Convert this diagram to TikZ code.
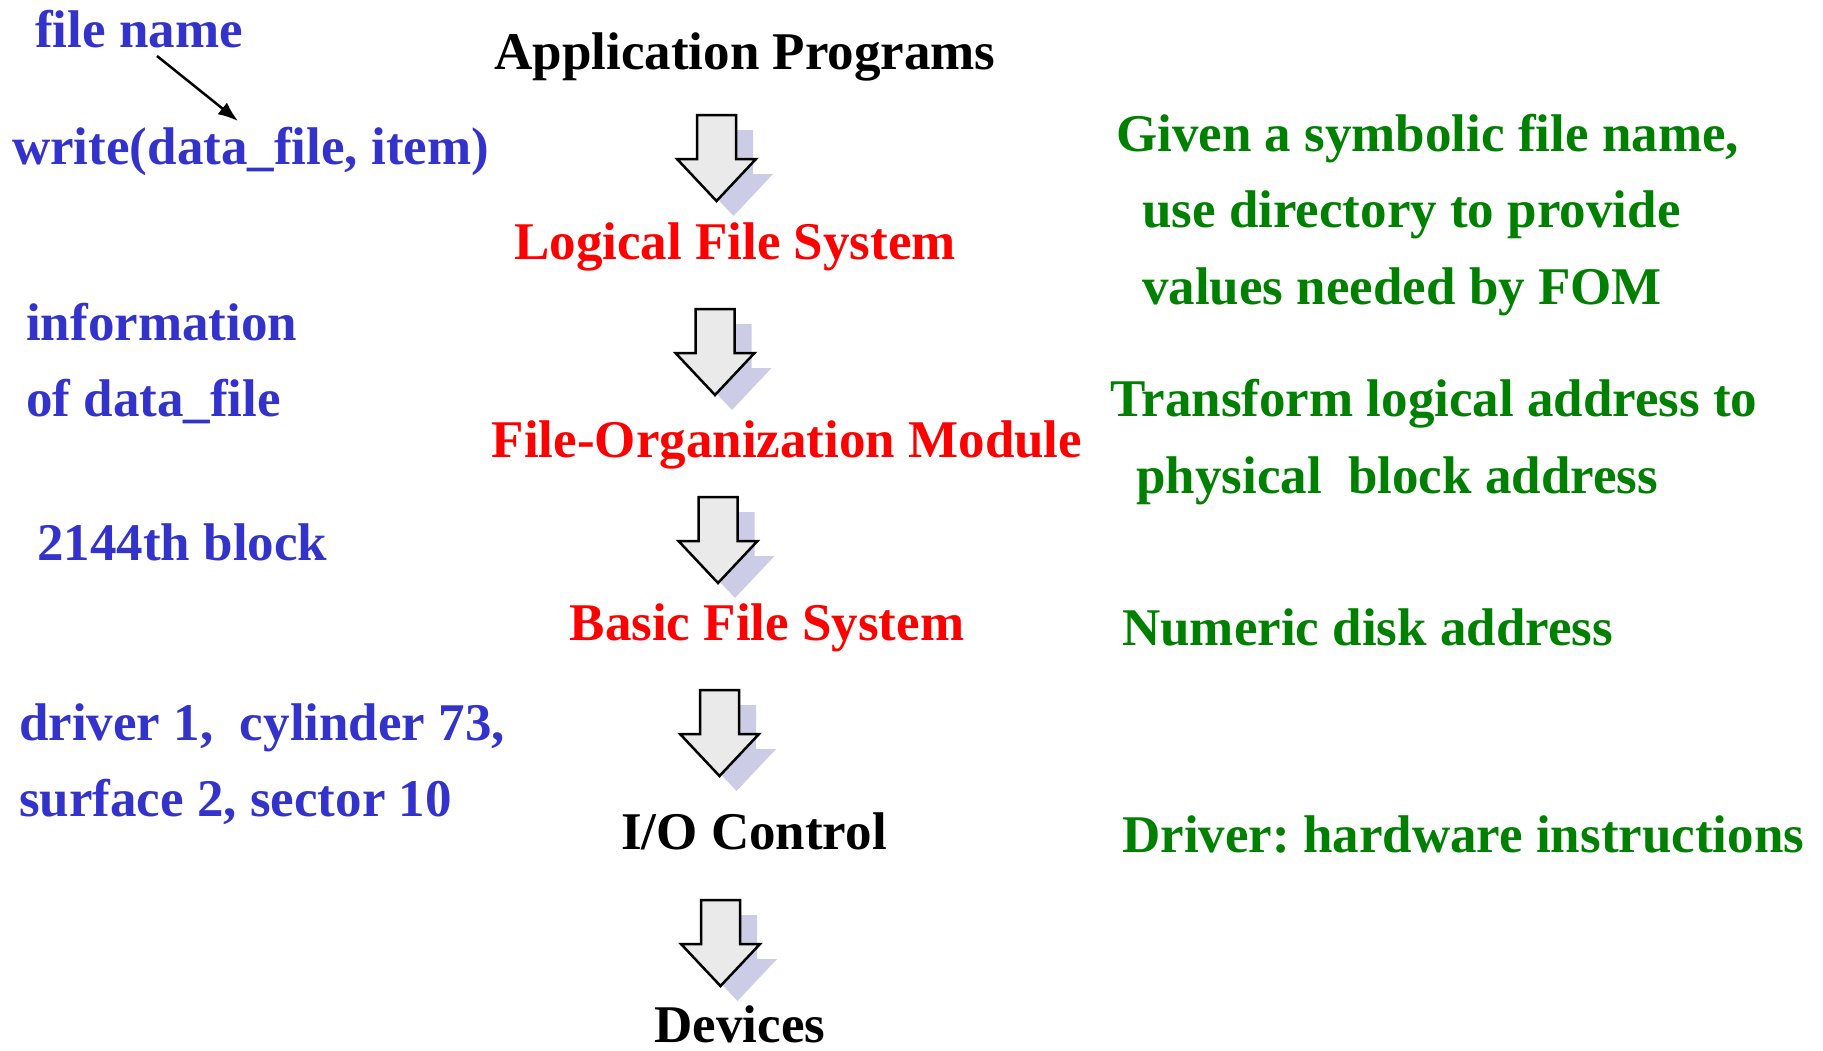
\documentclass[tikz,border=0pt]{standalone}
\usepackage{fontspec}
\setmainfont{Liberation Serif}
\usetikzlibrary{arrows.meta}
\definecolor{labelblue}{RGB}{51,51,204}
\definecolor{layerred}{RGB}{255,0,0}
\definecolor{notegreen}{RGB}{0,128,0}
\definecolor{arrowfill}{RGB}{234,234,234}
\definecolor{shadowc}{RGB}{204,204,230}
\tikzset{
  txt/.style={inner sep=0pt, anchor=base west, font=\fontsize{53}{60}\selectfont\bfseries\frenchspacing},
  layer/.style={txt, anchor=base},
  blue/.style={txt, text=labelblue},
  green/.style={txt, text=notegreen},
  downblock/.pic={
    \fill[shadowc] (-2.5,15) -- (36.5,15) -- (36.5,59) -- (56.5,59) -- (17,101) -- (-22.5,59) -- (-2.5,59) -- cycle;
    \filldraw[fill=arrowfill, draw=black, line width=2.5pt, line join=miter]
      (-19.5,0) -- (19.5,0) -- (19.5,44) -- (39.5,44) -- (0,86) -- (-39.5,44) -- (-19.5,44) -- cycle;
  }
}
\begin{document}
\begin{tikzpicture}[x=1pt, y=-1pt]
\useasboundingbox (0,0) rectangle (1823,1050);

% layers of the file system
\node[layer] (app) at (745,69) {Application Programs};
\node[layer, text=layerred] (lfs) at (735,259) {Logical File System};
\node[layer, text=layerred] (fom) at (787,457) {File-Organization Module};
\node[layer, text=layerred] (bfs) at (767,640) {Basic File System};
\node[layer] (ioc) at (754,849) {I/O Control};
\node[layer] (dev) at (740,1042) {Devices};

% block arrows between the layers
\pic at (716.5,115) {downblock};
\pic at (715,309) {downblock};
\pic at (718,497) {downblock};
\pic at (719.5,690) {downblock};
\pic at (720.5,900) {downblock};

% what is passed down at each step
\node[blue] (fname) at (35,47) {file name};
\node[blue] (write) at (12,164) {write(data\_file, item)};
\node[blue] (info1) at (26,340) {information};
\node[blue] (info2) at (26,416) {of data\_file};
\node[blue] (blk) at (37,560) {2144th block};
\node[blue] (drv1) at (19,740) {driver 1,\ \ cylinder 73,};
\node[blue] (drv2) at (19,816) {surface 2, sector 10};

\coordinate (fnfoot) at (157,56);
\coordinate (fntip) at (238,121);
\draw[line width=2.5pt, -{Latex[length=20pt,width=15pt]}] (fnfoot) -- (fntip);

% role of each layer
\node[green] (g1) at (1116,151) {Given a symbolic file name,};
\node[green] (g2) at (1142,227) {use directory to provide};
\node[green] (g3) at (1142,304) {values needed by FOM};
\node[green] (g4) at (1110,416) {Transform logical address to};
\node[green] (g5) at (1136,493) {physical\ \ block address};
\node[green] (g6) at (1122,645) {Numeric disk address};
\node[green] (g7) at (1122,852) {Driver: hardware instructions};
\end{tikzpicture}
\end{document}
